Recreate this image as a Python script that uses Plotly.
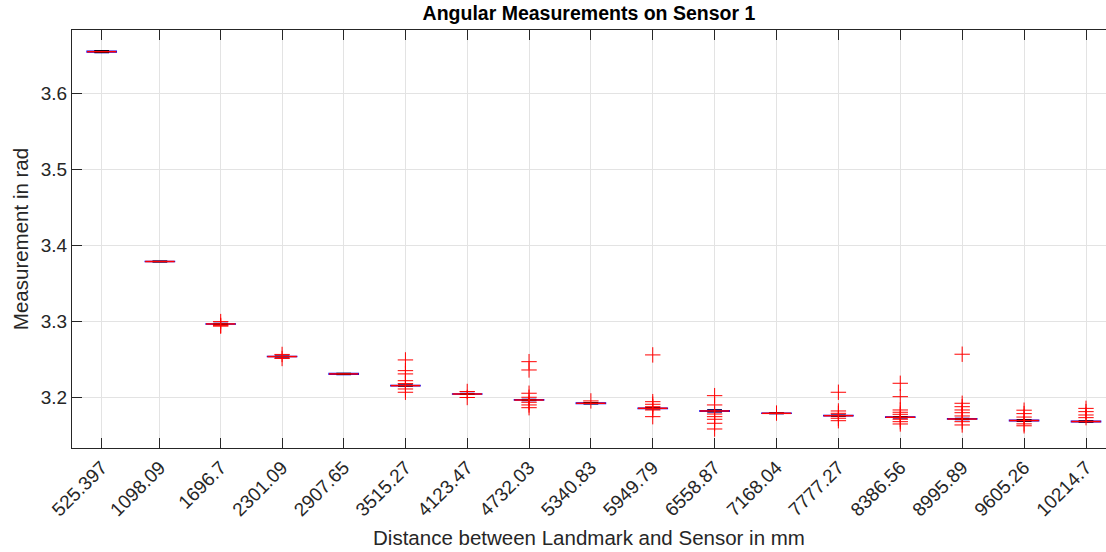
import plotly.graph_objects as go

distances = [525.397, 1098.09, 1696.7, 2301.09, 2907.65, 3515.27, 4123.47, 4732.03,
             5340.83, 5949.79, 6558.87, 7168.04, 7777.27, 8386.56, 8995.89, 9605.26, 10214.7]
tick_labels = ["525.397", "1098.09", "1696.7", "2301.09", "2907.65", "3515.27", "4123.47", "4732.03",
               "5340.83", "5949.79", "6558.87", "7168.04", "7777.27", "8386.56", "8995.89", "9605.26", "10214.7"]

medians = [3.6544, 3.3785, 3.2964, 3.2535, 3.2307, 3.2153, 3.2043, 3.1964,
           3.1921, 3.1855, 3.1820, 3.1789, 3.1758, 3.1737, 3.1714, 3.1694, 3.1681]
q1 = [3.6537, 3.3782, 3.2962, 3.2533, 3.2302, 3.2150, 3.2040, 3.1961,
      3.1916, 3.1852, 3.1815, 3.1787, 3.1755, 3.1734, 3.1711, 3.1688, 3.1676]
q3 = [3.6552, 3.3788, 3.2967, 3.2538, 3.2313, 3.2157, 3.2046, 3.1968,
      3.1927, 3.1859, 3.1826, 3.1792, 3.1761, 3.1741, 3.1718, 3.1701, 3.1687]
lower_whisker = [3.6532, 3.3779, 3.2958, 3.2530, 3.2299, 3.2146, 3.2037, 3.1957,
                 3.1913, 3.1848, 3.1808, 3.1784, 3.1751, 3.1730, 3.1707, 3.1684, 3.1673]
upper_whisker = [3.6558, 3.3791, 3.2971, 3.2541, 3.2316, 3.2161, 3.2050, 3.1972,
                 3.1931, 3.1863, 3.1834, 3.1795, 3.1765, 3.1745, 3.1722, 3.1706, 3.1690]

outliers = [
    [],
    [],
    [3.2995, 3.2945, 3.2935],
    [3.2563, 3.2510],
    [],
    [3.2491, 3.2350, 3.2307, 3.2218, 3.2180, 3.2109, 3.2066],
    [3.2076, 3.1997],
    [3.2468, 3.2359, 3.2053, 3.2000, 3.1934, 3.1899, 3.1863],
    [3.1952],
    [3.2557, 3.1942, 3.1908, 3.1876, 3.1833, 3.1745],
    [3.2021, 3.1899, 3.1780, 3.1745, 3.1711, 3.1658, 3.1583],
    [3.1792],
    [3.2066, 3.1820, 3.1789, 3.1724, 3.1692],
    [3.2184, 3.2008, 3.1833, 3.1803, 3.1776, 3.1711, 3.1679, 3.1649],
    [3.2566, 3.1921, 3.1876, 3.1833, 3.1797, 3.1754, 3.1679, 3.1636],
    [3.1830, 3.1785, 3.1740, 3.1650, 3.1625],
    [3.1854, 3.1811, 3.1767, 3.1732],
]

BOX_W = 290.0
FONT = "Liberation Sans, Arial, sans-serif"
AX = "#262626"

fig = go.Figure()

# boxes
fig.add_trace(go.Box(
    x=distances, q1=q1, median=medians, q3=q3,
    lowerfence=lower_whisker, upperfence=upper_whisker,
    width=BOX_W, whiskerwidth=0.5,
    line=dict(color="#0000ff", width=1.2),
    fillcolor="rgba(0,0,0,0)",
    boxpoints=False, showlegend=False, hoverinfo="skip",
))

# whisker caps (black) and medians (red)
cx, cy, mx, my = [], [], [], []
for d, lo, hi, m in zip(distances, lower_whisker, upper_whisker, medians):
    for v in (lo, hi):
        cx += [d - BOX_W / 4, d + BOX_W / 4, None]
        cy += [v, v, None]
    cx += [d, d, None]
    cy += [lo, hi, None]
    mx += [d - BOX_W / 2, d + BOX_W / 2, None]
    my += [m, m, None]
fig.add_trace(go.Scatter(x=cx, y=cy, mode="lines", line=dict(color="black", width=1),
                         showlegend=False, hoverinfo="skip"))
fig.add_trace(go.Scatter(x=mx, y=my, mode="lines", line=dict(color="red", width=1.5),
                         showlegend=False, hoverinfo="skip"))

# outliers
ox, oy = [], []
for d, outs in zip(distances, outliers):
    for v in outs:
        ox.append(d)
        oy.append(v)
fig.add_trace(go.Scatter(x=ox, y=oy, mode="markers",
                         marker=dict(symbol="cross-thin-open", size=11, color="red",
                                     line=dict(color="red", width=1)),
                         showlegend=False, hoverinfo="skip"))

fig.update_layout(
    width=1106, height=552,
    margin=dict(l=72, r=0, t=30, b=104),
    plot_bgcolor="white", paper_bgcolor="white",
    font=dict(family=FONT, color=AX, size=19),
    title=dict(text="<b>Angular Measurements on Sensor 1</b>", x=0.5325, xanchor="center",
               y=1 - 13 / 552, yanchor="middle", font=dict(size=19.5, color="black")),
    xaxis=dict(
        range=[233.0, 10411.6], tickmode="array", tickvals=distances, ticktext=tick_labels,
        tickangle=-45, ticks="inside", ticklen=10, tickcolor=AX, tickwidth=1,
        showline=True, linecolor=AX, linewidth=1, mirror="allticks",
        showgrid=True, gridcolor="#e3e3e3", gridwidth=1, zeroline=False,
        tickfont=dict(size=19, color=AX),
        title=dict(text="Distance between Landmark and Sensor in mm", font=dict(size=20.5, color=AX),
                   standoff=11),
    ),
    yaxis=dict(
        range=[3.1333, 3.6829], tickmode="array", tickvals=[3.2, 3.3, 3.4, 3.5, 3.6],
        ticktext=["3.2", "3.3", "3.4", "3.5", "3.6"],
        ticks="inside", ticklen=10, tickcolor=AX, tickwidth=1,
        showline=True, linecolor=AX, linewidth=1,
        showgrid=True, gridcolor="#e3e3e3", gridwidth=1, zeroline=False,
        tickfont=dict(size=19, color=AX),
        title=dict(text="Measurement in rad", font=dict(size=20.5, color=AX), standoff=6),
    ),
)

fig.write_html("out.html")
